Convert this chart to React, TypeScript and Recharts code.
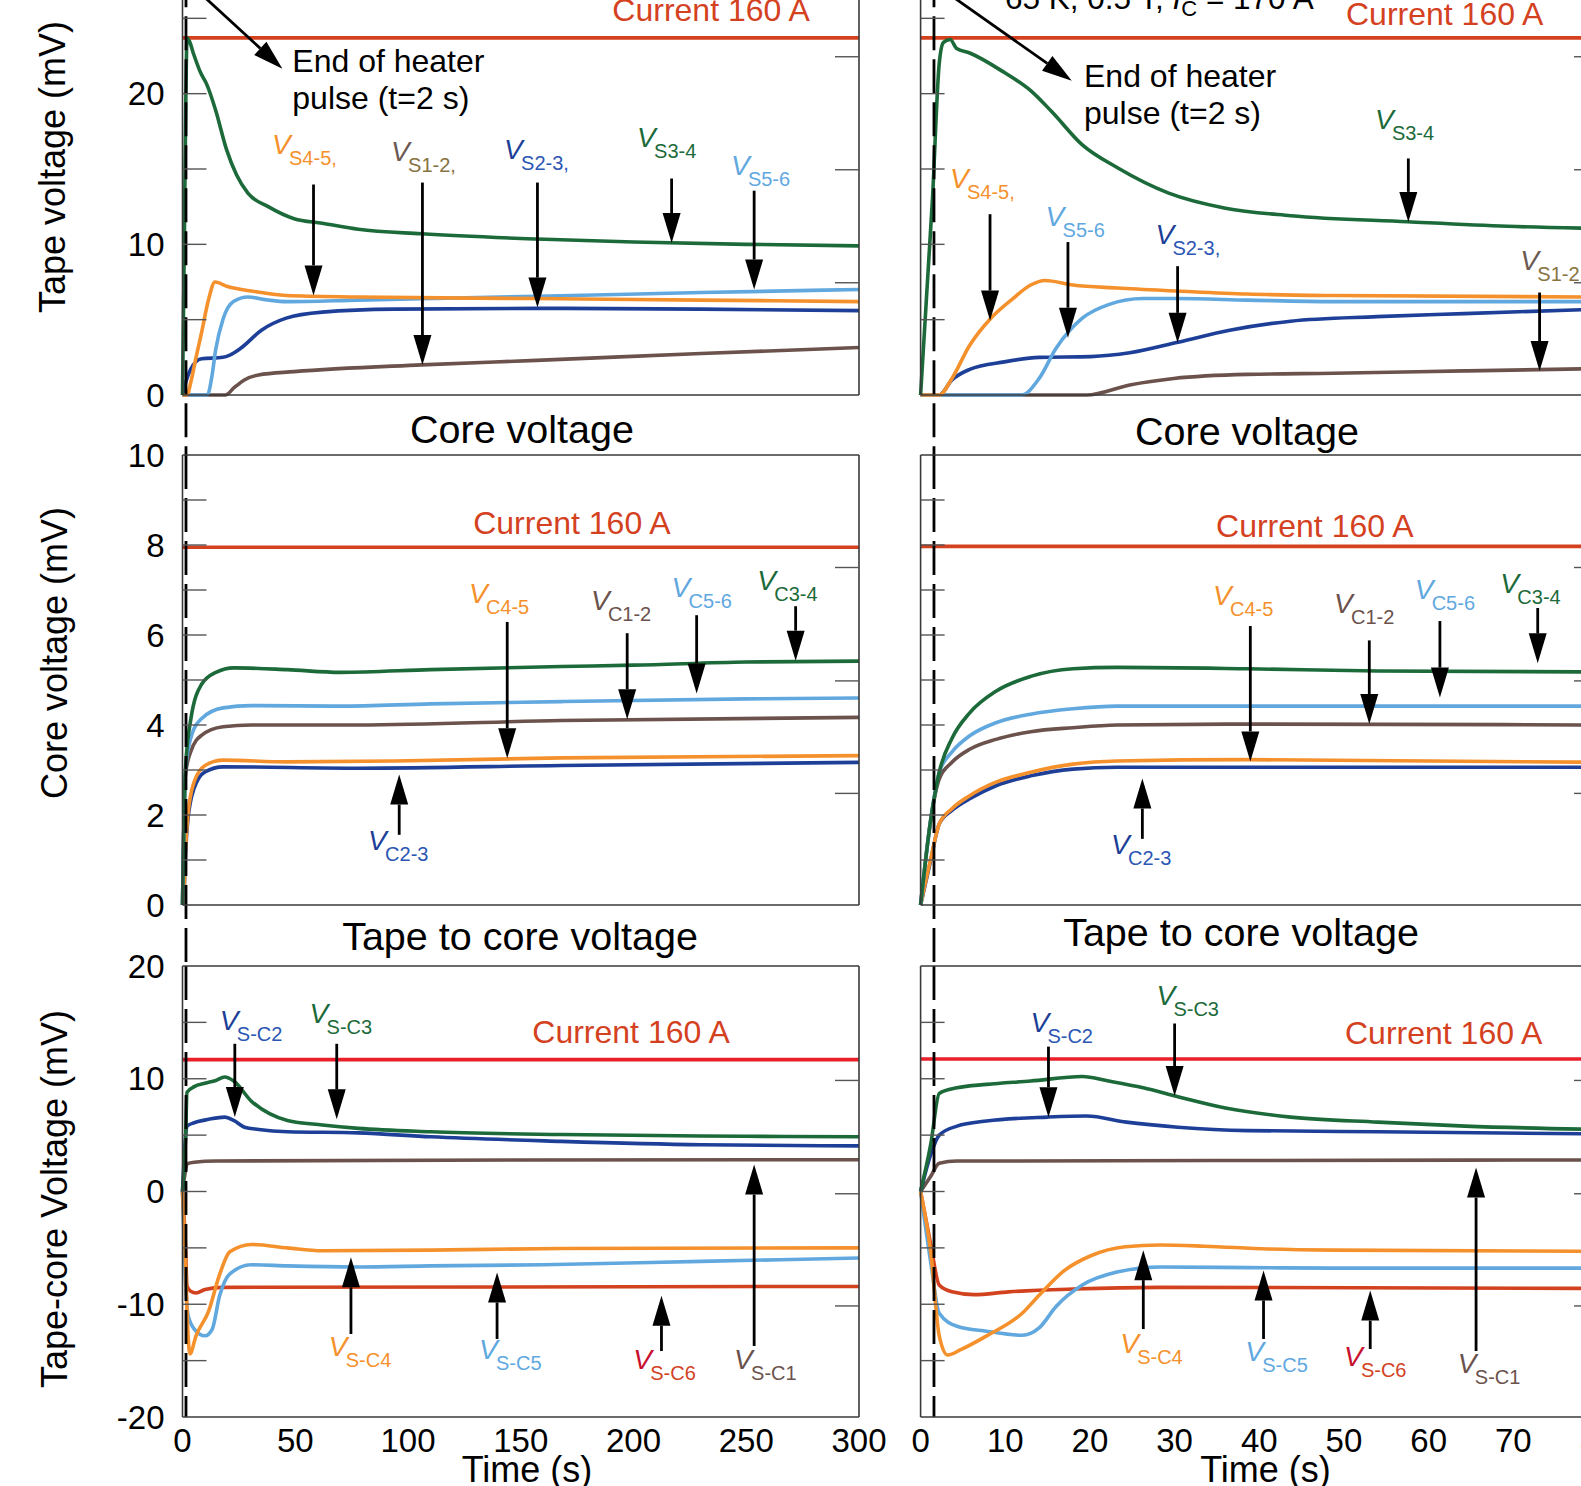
import { LineChart, Line, XAxis, YAxis, ReferenceLine, ReferenceDot } from "recharts";

type Pt = [number, number];
type Arr = [number, number, number, number]; // tail t, tail v, tip t, tip v
type Tag = { t: number; v: number; sub: string; c: string; sc?: string };
type Note = { t: number; v: number; text: string[]; c: string; anchor: "start" | "middle" };

const GREEN = "#1c6a3a";
const ORANGE = "#f5912c";
const LBLUE = "#61a8df";
const DBLUE = "#1d3f98";
const BROWN = "#6b524c";
const CUR = "#d4411f";
const CUR_B = "#ea1f29";
const RED6 = "#d2421f";
const FRAME = "#3a3a3a";
const TICK = "#555";

// ---- tape voltage, 0-300 s
const TL_S34: Pt[] = [[0, 0], [0.8, 10], [1.5, 20], [2, 23.7], [3, 23.5], [5, 22.6], [8, 21.4], [10.8, 20.6], [14.7, 18.9], [19.5, 16.3], [24, 14.6], [29, 13.4], [38, 12.5], [49.5, 11.7], [62, 11.4], [78, 11.0], [106, 10.7], [157, 10.35], [200, 10.15], [250, 10.0], [300, 9.9]];
const TL_S45: Pt[] = [[0, 0], [2, 0], [3.6, 0.8], [6, 2.5], [8.4, 4.1], [11.5, 6.3], [14.4, 7.5], [20, 7.2], [30.5, 6.9], [46, 6.6], [78, 6.5], [157, 6.4], [230, 6.3], [300, 6.2]];
const TL_S56: Pt[] = [[0, 0], [11, 0], [13, 1.2], [14.7, 3.0], [17.9, 5.0], [22.6, 6.2], [29, 6.5], [38, 6.3], [46, 6.2], [78, 6.3], [157, 6.55], [230, 6.8], [300, 7.0]];
const TL_S23: Pt[] = [[0, 0], [1, 0.6], [3.6, 1.7], [8.4, 2.4], [17.9, 2.5], [21, 2.65], [25.8, 3.1], [35, 4.3], [46, 5.1], [62, 5.5], [94, 5.7], [157, 5.75], [230, 5.7], [300, 5.6]];
const TL_S12: Pt[] = [[0, 0], [19, 0], [23, 0.5], [27.4, 1.0], [33.7, 1.33], [49.5, 1.55], [106, 2.0], [157, 2.3], [230, 2.75], [300, 3.15]];
const TL_CUR: Pt[] = [[0, 23.7], [300, 23.7]];

// ---- tape voltage, 0-80 s
const TR_S34: Pt[] = [[0, 0], [1.4, 13], [2.2, 22], [2.7, 23.4], [3.5, 23.6], [4.25, 23.0], [5.8, 22.7], [9.9, 21.4], [13, 20.2], [15.5, 18.8], [19.1, 16.6], [23.2, 15.1], [29.3, 13.4], [36, 12.4], [43.7, 11.9], [57.5, 11.5], [69.3, 11.2], [80, 11.05]];
const TR_S45: Pt[] = [[0, 0], [2.2, 0], [3.7, 1.1], [5.8, 3.3], [8.3, 5.1], [10.9, 6.4], [13, 7.3], [14.7, 7.6], [18, 7.3], [23.2, 7.1], [30.4, 6.9], [38.6, 6.7], [48.8, 6.6], [80, 6.5]];
const TR_S56: Pt[] = [[0, 0], [11.9, 0], [14, 1.1], [16, 3.1], [19.1, 5.1], [22.2, 6.0], [26.3, 6.4], [30.4, 6.4], [38.6, 6.3], [48.8, 6.2], [80, 6.2]];
const TR_S23: Pt[] = [[0, 0], [2.2, 0], [3.7, 1.0], [5.8, 1.7], [9.9, 2.2], [14, 2.5], [20.1, 2.55], [24.7, 2.8], [30.4, 3.5], [36.5, 4.3], [43.7, 4.9], [53.9, 5.2], [64.2, 5.4], [80, 5.7]];
const TR_S12: Pt[] = [[0, 0], [19.6, 0], [24.7, 0.67], [29.9, 1.1], [38.6, 1.37], [48.8, 1.44], [64.2, 1.6], [80, 1.75]];
const TR_CUR: Pt[] = [[0, 23.7], [80, 23.7]];

// ---- core voltage, 0-300 s
const ML_C34: Pt[] = [[0, 0], [0.5, 1.5], [1.3, 3.0], [3.6, 4.1], [8.4, 4.9], [14.8, 5.17], [22.7, 5.27], [46.5, 5.23], [70, 5.17], [110, 5.23], [168, 5.3], [200, 5.33], [250, 5.4], [300, 5.42]];
const ML_C56: Pt[] = [[0, 0], [0.5, 1.5], [1.3, 2.96], [3.6, 3.7], [8.4, 4.14], [18, 4.38], [30.6, 4.43], [70, 4.42], [110, 4.47], [168, 4.52], [250, 4.58], [300, 4.6]];
const ML_C12: Pt[] = [[0, 0], [0.5, 1.5], [1.3, 2.9], [3.6, 3.4], [8.4, 3.77], [18, 3.96], [30.6, 4.0], [78, 4.0], [168, 4.1], [300, 4.17]];
const ML_C45: Pt[] = [[0, 0], [0.5, 0.1], [1.3, 1.2], [2.4, 2.0], [5.2, 2.74], [10, 3.1], [18, 3.22], [46.5, 3.18], [94, 3.2], [168, 3.27], [300, 3.32]];
const ML_C23: Pt[] = [[0, 0], [0.5, 0.1], [1.3, 1.1], [2.4, 1.9], [5.2, 2.6], [10, 2.96], [18, 3.07], [78, 3.04], [168, 3.1], [300, 3.17]];
const ML_CUR: Pt[] = [[0, 7.95], [300, 7.95]];

// ---- core voltage, 0-80 s
const MR_C34: Pt[] = [[0, 0], [1.2, 1.9], [2.2, 2.95], [3.7, 3.7], [5.8, 4.27], [8.9, 4.75], [13, 5.08], [18, 5.25], [23.2, 5.28], [38.6, 5.25], [54, 5.2], [80, 5.18]];
const MR_C56: Pt[] = [[0, 0], [1.2, 1.9], [2.2, 2.95], [3.7, 3.4], [5.8, 3.76], [8.9, 4.05], [13, 4.24], [18, 4.36], [23.2, 4.42], [38.6, 4.42], [80, 4.42]];
const MR_C12: Pt[] = [[0, 0], [1.2, 1.9], [2.2, 2.8], [3.7, 3.17], [5.8, 3.46], [8.9, 3.68], [13, 3.85], [18, 3.94], [23.2, 4.0], [38.6, 4.02], [80, 4.0]];
const MR_C45: Pt[] = [[0, 0], [1.2, 1.03], [2.2, 1.8], [3.7, 2.14], [5.8, 2.43], [8.9, 2.73], [13, 2.95], [18, 3.13], [23.2, 3.2], [38.6, 3.23], [80, 3.17]];
const MR_C23: Pt[] = [[0, 0], [1.2, 1.0], [2.2, 1.8], [3.7, 2.1], [5.8, 2.36], [8.9, 2.65], [13, 2.87], [18, 3.02], [23.2, 3.06], [38.6, 3.06], [80, 3.06]];
const MR_CUR: Pt[] = [[0, 7.97], [80, 7.97]];

// ---- tape to core voltage, 0-300 s
const BL_C3: Pt[] = [[0, 0], [1.3, 4.4], [2, 8.8], [5.2, 9.3], [10, 9.6], [14.8, 9.85], [18.7, 10.15], [22.7, 9.8], [30.6, 8.0], [38.6, 6.9], [46.5, 6.3], [62, 5.9], [78, 5.6], [110, 5.3], [168, 5.05], [250, 4.9], [300, 4.85]];
const BL_C2: Pt[] = [[0, 0], [1.3, 4.7], [2, 5.8], [5.2, 6.1], [11.6, 6.4], [18.7, 6.6], [22.7, 6.3], [27.5, 5.7], [33.8, 5.5], [46.5, 5.3], [78, 5.2], [110, 4.85], [168, 4.45], [230, 4.15], [300, 4.05]];
const BL_C1: Pt[] = [[0, 0], [1.3, 1.8], [2, 2.45], [5.2, 2.6], [14.8, 2.7], [150, 2.8], [300, 2.82]];
const BL_C4: Pt[] = [[0, 0], [1.3, -6.1], [2.4, -12.5], [3.3, -14.4], [6, -12.8], [11.6, -10.6], [16.4, -7.4], [21, -5.35], [30.6, -4.7], [46.5, -5.0], [62, -5.25], [110, -5.2], [168, -5.05], [300, -5.0]];
const BL_C5: Pt[] = [[0, 0], [1.3, -7.7], [2.4, -10.9], [5.2, -12.2], [10, -12.8], [13.2, -12.2], [16.4, -9.3], [21, -7.3], [30.6, -6.5], [46.5, -6.6], [78, -6.7], [110, -6.6], [160, -6.5], [230, -6.2], [300, -5.9]];
const BL_C6: Pt[] = [[0, 0], [1.3, -4.6], [2, -8.4], [3.6, -8.85], [6, -9.0], [10, -8.7], [18, -8.5], [300, -8.42]];
const BL_CUR: Pt[] = [[0, 11.7], [300, 11.7]];

// ---- tape to core voltage, 0-80 s
const BR_C3: Pt[] = [[0, 0], [1.2, 4.2], [2.2, 8.7], [4.3, 9.2], [7.8, 9.5], [13, 9.8], [19.1, 10.2], [22.2, 9.8], [26.3, 9.2], [30.4, 8.4], [36, 7.4], [43.7, 6.6], [54, 6.15], [64.3, 5.8], [80, 5.5]];
const BR_C2: Pt[] = [[0, 0], [1.2, 3.3], [2.2, 5.0], [4.3, 5.8], [7.8, 6.25], [15, 6.6], [19.6, 6.7], [24.3, 6.15], [30.4, 5.7], [38.6, 5.4], [54, 5.3], [80, 5.1]];
const BR_C1: Pt[] = [[0, 0], [1.2, 1.35], [2.2, 2.5], [4.3, 2.7], [40, 2.75], [80, 2.8]];
const BR_C4: Pt[] = [[0, 0], [1.2, -5.4], [2.2, -12.8], [3.2, -14.5], [4.8, -14.0], [7.8, -12.8], [12, -10.8], [14, -9.2], [17, -7.0], [20.1, -5.7], [24.2, -4.9], [28.3, -4.75], [33.5, -4.85], [41, -5.1], [48.8, -5.2], [80, -5.3]];
const BR_C5: Pt[] = [[0, 0], [1.2, -6.3], [2.2, -10.8], [4.3, -11.95], [7.8, -12.4], [12, -12.75], [14, -12.1], [16, -10.2], [19.1, -8.3], [23.2, -7.15], [28.3, -6.7], [38.6, -6.75], [48.8, -6.8], [80, -6.8]];
const BR_C6: Pt[] = [[0, 0], [1.2, -4.7], [2.2, -8.3], [3.7, -8.9], [6.3, -9.15], [10.4, -8.9], [18, -8.65], [28.3, -8.5], [80, -8.6]];
const BR_CUR: Pt[] = [[0, 11.75], [80, 11.75]];

// ---- ticks
const X_LONG_LABELS = [0, 50, 100, 150, 200, 250, 300];
const X_LONG_MINOR = [50, 100, 150, 200, 250];
const X_SHORT_LABELS = [0, 10, 20, 30, 40, 50, 60, 70, 80];
const X_SHORT_MINOR = [10, 20, 30, 40, 50, 60, 70];
const TAPE_LABELS = [0, 10, 20];
const TAPE_MINOR = [5, 10, 15, 20, 25];
const TAPE_RIGHT = [7.45, 14.95, 22.45];
const CORE_LABELS = [0, 2, 4, 6, 8, 10];
const CORE_MINOR = [1, 2, 3, 4, 5, 6, 7, 8, 9];
const CORE_RIGHT = [2.48, 4.98, 7.5];
const TC_LABELS = [-20, -10, 0, 10, 20];
const TC_MINOR = [-15, -10, -5, 0, 5, 10, 15];
const TC_RIGHT = [-10.15, -0.2, 9.85];

// ---- annotations (data units)
const TL_ARROWS: Arr[] = [[4.0, 27.2, 44.3, 21.66], [58.1, 13.97, 58.1, 6.61], [106.4, 14.1, 106.4, 1.99], [157.4, 14.1, 157.4, 5.8], [216.9, 14.37, 216.9, 10.09], [253.5, 13.56, 253.5, 7.0]];
const TR_ARROWS: Arr[] = [[2.62, 26.9, 17.85, 20.86], [57.6, 15.7, 57.6, 11.49], [8.2, 12.0, 8.2, 4.94], [17.4, 10.15, 17.4, 3.8], [30.35, 8.55, 30.35, 3.46], [73.1, 6.8, 73.1, 1.59]];
const ML_ARROWS: Arr[] = [[144, 6.29, 144, 3.26], [197.2, 6.04, 197.2, 4.13], [228, 6.44, 228, 4.7], [271.9, 6.64, 271.9, 5.43], [96.1, 1.56, 96.1, 2.9]];
const MR_ARROWS: Arr[] = [[38.94, 6.2, 38.94, 3.19], [52.99, 5.88, 52.99, 4.02], [61.33, 6.31, 61.33, 4.61], [72.88, 6.6, 72.88, 5.37], [26.19, 1.47, 26.19, 2.81]];
const BL_ARROWS: Arr[] = [[23.2, 13.1, 23.2, 6.6], [68.4, 13.1, 68.4, 6.4], [74.7, -12.64, 74.7, -5.84], [139.5, -13.08, 139.5, -7.18], [212.4, -14.15, 212.4, -9.24], [253.5, -13.7, 253.5, 2.39]];
const BR_ARROWS: Arr[] = [[15.1, 12.85, 15.1, 6.59], [30.0, 14.9, 30.0, 8.47], [26.3, -12.2, 26.3, -5.2], [40.5, -13.08, 40.5, -7.0], [53.1, -13.97, 53.1, -8.79], [65.6, -14.15, 65.6, 2.12]];

const TL_TAGS: Tag[] = [
  { t: 39.7, v: 15.99, sub: "S4-5,", c: ORANGE },
  { t: 92.5, v: 15.53, sub: "S1-2,", c: "#6b5a52", sc: "#867341" },
  { t: 142.6, v: 15.66, sub: "S2-3,", c: DBLUE, sc: "#2b56b3" },
  { t: 201.6, v: 16.46, sub: "S3-4", c: GREEN },
  { t: 243.2, v: 14.57, sub: "S5-6", c: LBLUE },
];
const TR_TAGS: Tag[] = [
  { t: 53.65, v: 17.65, sub: "S3-4", c: GREEN },
  { t: 3.47, v: 13.77, sub: "S4-5,", c: ORANGE },
  { t: 14.76, v: 11.21, sub: "S5-6", c: LBLUE },
  { t: 27.73, v: 10.02, sub: "S2-3,", c: DBLUE, sc: "#2b56b3" },
  { t: 70.83, v: 8.29, sub: "S1-2,", c: "#6b5a52", sc: "#867341" },
];
const ML_TAGS: Tag[] = [
  { t: 127, v: 6.71, sub: "C4-5", c: ORANGE },
  { t: 181.1, v: 6.56, sub: "C1-2", c: BROWN },
  { t: 216.9, v: 6.84, sub: "C5-6", c: LBLUE },
  { t: 254.9, v: 7.0, sub: "C3-4", c: GREEN },
  { t: 82.3, v: 1.22, sub: "C2-3", c: DBLUE, sc: "#2b56b3" },
];
const MR_TAGS: Tag[] = [
  { t: 34.53, v: 6.67, sub: "C4-5", c: ORANGE },
  { t: 48.82, v: 6.49, sub: "C1-2", c: BROWN },
  { t: 58.35, v: 6.8, sub: "C5-6", c: LBLUE },
  { t: 68.47, v: 6.93, sub: "C3-4", c: GREEN },
  { t: 22.49, v: 1.13, sub: "C2-3", c: DBLUE, sc: "#2b56b3" },
];
const BL_TAGS: Tag[] = [
  { t: 16.54, v: 14.28, sub: "S-C2", c: DBLUE, sc: "#2b56b3" },
  { t: 56.36, v: 14.91, sub: "S-C3", c: GREEN },
  { t: 64.83, v: -14.59, sub: "S-C4", c: ORANGE },
  { t: 131.5, v: -14.86, sub: "S-C5", c: LBLUE },
  { t: 199.9, v: -15.74, sub: "S-C6", c: "#c8102e", sc: RED6 },
  { t: 244.6, v: -15.74, sub: "S-C1", c: BROWN },
];
const BR_TAGS: Tag[] = [
  { t: 12.97, v: 14.19, sub: "S-C2", c: DBLUE, sc: "#2b56b3" },
  { t: 27.85, v: 16.51, sub: "S-C3", c: GREEN },
  { t: 23.57, v: -14.32, sub: "S-C4", c: ORANGE },
  { t: 38.34, v: -15.03, sub: "S-C5", c: LBLUE },
  { t: 49.99, v: -15.48, sub: "S-C6", c: "#c8102e", sc: RED6 },
  { t: 63.45, v: -16.1, sub: "S-C1", c: BROWN },
];

const HEATER = ["End of heater", "pulse (t=2 s)"];
const CUR_TEXT = ["Current 160 A"];
const TL_NOTES: Note[] = [
  { t: 234.4, v: 24.81, text: CUR_TEXT, c: CUR, anchor: "middle" },
  { t: 48.7, v: 21.44, text: HEATER, c: "#000", anchor: "start" },
];
const TR_NOTES: Note[] = [
  { t: 61.9, v: 24.54, text: CUR_TEXT, c: CUR, anchor: "middle" },
  { t: 19.3, v: 20.46, text: HEATER, c: "#000", anchor: "start" },
];
const ML_NOTES: Note[] = [{ t: 172.7, v: 8.24, text: CUR_TEXT, c: CUR, anchor: "middle" }];
const MR_NOTES: Note[] = [{ t: 46.55, v: 8.17, text: CUR_TEXT, c: CUR, anchor: "middle" }];
const BL_NOTES: Note[] = [{ t: 198.9, v: 13.2, text: CUR_TEXT, c: CUR, anchor: "middle" }];
const BR_NOTES: Note[] = [{ t: 61.78, v: 13.12, text: CUR_TEXT, c: CUR, anchor: "middle" }];

const rows = (p: Pt[]) => p.map(([t, v]) => ({ t, v }));
const NoTick = () => <g />;

function ArrowShape(p: any) {
  const { x1, y1, x2, y2 } = p;
  const dx = x2 - x1;
  const dy = y2 - y1;
  const len = Math.hypot(dx, dy) || 1;
  const ux = dx / len;
  const uy = dy / len;
  const hl = 30;
  const hw = 9;
  const bx = x2 - ux * hl;
  const by = y2 - uy * hl;
  return (
    <g>
      <line x1={x1} y1={y1} x2={bx} y2={by} stroke="#000" strokeWidth={2.8} />
      <polygon
        points={`${x2},${y2} ${bx - uy * hw},${by + ux * hw} ${bx + uy * hw},${by - ux * hw}`}
        fill="#000"
      />
    </g>
  );
}

const tagShape = (g: Tag) => (p: any) => (
  <g>
    <text x={p.cx} y={p.cy} fontSize={28} fontStyle="italic" fill={g.c}>V</text>
    <text x={p.cx + 17} y={p.cy + 11} fontSize={20} fill={g.sc ?? g.c}>{g.sub}</text>
  </g>
);

const noteShape = (n: Note) => (p: any) => (
  <text x={p.cx} y={p.cy} fontSize={32} fill={n.c} textAnchor={n.anchor}>
    {n.text.map((line, i) => (
      <tspan key={i} x={p.cx} dy={i === 0 ? 0 : 37}>{line}</tspan>
    ))}
  </text>
);

type PanelProps = {
  left: number;
  top: number;
  width: number;
  height: number;
  margin: { top: number; right: number; bottom: number; left: number };
  xDomain: [number, number];
  yDomain: [number, number];
  xLabels?: number[];
  xMinor: number[];
  yLabels?: number[];
  yMinor: number[];
  yRight: number[];
  series: { pts: Pt[]; color: string }[];
  arrows: Arr[];
  tags: Tag[];
  notes: Note[];
  dash: Arr;
};

function Panel(p: PanelProps) {
  const frame = { stroke: FRAME, strokeWidth: 1.6 };
  const tickLine = { stroke: TICK, strokeWidth: 1.4 };
  const label = { fill: "#000", fontSize: 33 };
  return (
    <div style={{ position: "absolute", left: p.left, top: p.top }}>
      <LineChart width={p.width} height={p.height} margin={p.margin}>
        <XAxis xAxisId="t" dataKey="t" type="number" domain={p.xDomain} ticks={p.xLabels ?? []} hide={!p.xLabels}
          interval={0} height={40} tickSize={0} tickMargin={12} tickLine={false} axisLine={false} tick={label} />
        <XAxis xAxisId="xb" type="number" domain={p.xDomain} allowDataOverflow ticks={p.xMinor} interval={0}
          mirror tickSize={24} tick={NoTick} axisLine={frame} tickLine={tickLine} />
        <XAxis xAxisId="xt" orientation="top" type="number" domain={p.xDomain} allowDataOverflow ticks={p.xMinor}
          interval={0} mirror tickSize={24} tick={NoTick} axisLine={frame} tickLine={tickLine} />
        <YAxis yAxisId="v" type="number" domain={p.yDomain} ticks={p.yLabels ?? []} hide={!p.yLabels} width={100}
          interval={0} tickSize={0} tickMargin={18} tickLine={false} axisLine={false} tick={label} />
        <YAxis yAxisId="yl" type="number" domain={p.yDomain} allowDataOverflow ticks={p.yMinor} interval={0}
          mirror tickSize={24} tick={NoTick} axisLine={frame} tickLine={tickLine} />
        <YAxis yAxisId="yr" orientation="right" type="number" domain={p.yDomain} allowDataOverflow ticks={p.yRight}
          interval={0} mirror tickSize={24} tick={NoTick} axisLine={frame} tickLine={tickLine} />
        {p.series.map((s, i) => (
          <Line key={i} xAxisId="t" yAxisId="v" data={rows(s.pts)} dataKey="v" type="monotone" stroke={s.color}
            strokeWidth={3.6} dot={false} activeDot={false} isAnimationActive={false} />
        ))}
        <ReferenceLine xAxisId="t" yAxisId="v" ifOverflow="visible"
          segment={[{ x: p.dash[0], y: p.dash[1] }, { x: p.dash[2], y: p.dash[3] }]}
          stroke="#000" strokeWidth={2.8} strokeDasharray="34 9" />
        {p.arrows.map((a, i) => (
          <ReferenceLine key={`a${i}`} xAxisId="t" yAxisId="v" ifOverflow="visible"
            segment={[{ x: a[0], y: a[1] }, { x: a[2], y: a[3] }]} shape={ArrowShape} />
        ))}
        {p.tags.map((g, i) => (
          <ReferenceDot key={`g${i}`} xAxisId="t" yAxisId="v" x={g.t} y={g.v} r={0} ifOverflow="visible" shape={tagShape(g)} />
        ))}
        {p.notes.map((n, i) => (
          <ReferenceDot key={`n${i}`} xAxisId="t" yAxisId="v" x={n.t} y={n.v} r={0} ifOverflow="visible" shape={noteShape(n)} />
        ))}
      </LineChart>
    </div>
  );
}

const LEFT_COL = { left: 0, width: 880, ml: 82.5, mr: 21 };
const RIGHT_COL = { left: 900, width: 720, ml: 20.6, mr: 22 };

export default function App() {
  return (
    <div
      style={{
        position: "relative",
        width: 1581,
        height: 1486,
        overflow: "hidden",
        background: "#fff",
        fontFamily: '"Liberation Sans", Arial, sans-serif',
      }}
    >
      <style>{"body{margin:0} .recharts-surface{overflow:visible}"}</style>

      {/* top row: tape voltage */}
      <Panel left={LEFT_COL.left} top={-80} width={LEFT_COL.width} height={495}
        margin={{ top: 23, right: LEFT_COL.mr, bottom: 20, left: LEFT_COL.ml }}
        xDomain={[0, 300]} yDomain={[0, 30]} xMinor={X_LONG_MINOR} yLabels={TAPE_LABELS} yMinor={TAPE_MINOR} yRight={TAPE_RIGHT}
        series={[{ pts: TL_CUR, color: CUR }, { pts: TL_S12, color: BROWN }, { pts: TL_S23, color: DBLUE }, { pts: TL_S56, color: LBLUE }, { pts: TL_S45, color: ORANGE }, { pts: TL_S34, color: GREEN }]}
        arrows={TL_ARROWS} tags={TL_TAGS} notes={TL_NOTES} dash={[1.55, 28, 1.55, -4.05]} />
      <Panel left={RIGHT_COL.left} top={-80} width={RIGHT_COL.width} height={495}
        margin={{ top: 23, right: RIGHT_COL.mr, bottom: 20, left: RIGHT_COL.ml }}
        xDomain={[0, 80]} yDomain={[0, 30]} xMinor={X_SHORT_MINOR} yMinor={TAPE_MINOR} yRight={TAPE_RIGHT}
        series={[{ pts: TR_CUR, color: CUR }, { pts: TR_S12, color: BROWN }, { pts: TR_S23, color: DBLUE }, { pts: TR_S56, color: LBLUE }, { pts: TR_S45, color: ORANGE }, { pts: TR_S34, color: GREEN }]}
        arrows={TR_ARROWS} tags={TR_TAGS} notes={TR_NOTES} dash={[1.58, 28, 1.58, -4.05]} />

      {/* middle row: core voltage */}
      <Panel left={LEFT_COL.left} top={435} width={LEFT_COL.width} height={490}
        margin={{ top: 20, right: LEFT_COL.mr, bottom: 20, left: LEFT_COL.ml }}
        xDomain={[0, 300]} yDomain={[0, 10]} xMinor={X_LONG_MINOR} yLabels={CORE_LABELS} yMinor={CORE_MINOR} yRight={CORE_RIGHT}
        series={[{ pts: ML_CUR, color: CUR }, { pts: ML_C23, color: DBLUE }, { pts: ML_C45, color: ORANGE }, { pts: ML_C12, color: BROWN }, { pts: ML_C56, color: LBLUE }, { pts: ML_C34, color: GREEN }]}
        arrows={ML_ARROWS} tags={ML_TAGS} notes={ML_NOTES} dash={[1.55, 10, 1.55, -1.36]} />
      <Panel left={RIGHT_COL.left} top={435} width={RIGHT_COL.width} height={490}
        margin={{ top: 20, right: RIGHT_COL.mr, bottom: 20, left: RIGHT_COL.ml }}
        xDomain={[0, 80]} yDomain={[0, 10]} xMinor={X_SHORT_MINOR} yMinor={CORE_MINOR} yRight={CORE_RIGHT}
        series={[{ pts: MR_CUR, color: CUR }, { pts: MR_C23, color: DBLUE }, { pts: MR_C45, color: ORANGE }, { pts: MR_C12, color: BROWN }, { pts: MR_C56, color: LBLUE }, { pts: MR_C34, color: GREEN }]}
        arrows={MR_ARROWS} tags={MR_TAGS} notes={MR_NOTES} dash={[1.58, 10, 1.58, -1.36]} />

      {/* bottom row: tape to core voltage */}
      <Panel left={LEFT_COL.left} top={946} width={LEFT_COL.width} height={511}
        margin={{ top: 20, right: LEFT_COL.mr, bottom: 0, left: LEFT_COL.ml }}
        xDomain={[0, 300]} yDomain={[-20, 20]} xLabels={X_LONG_LABELS} xMinor={X_LONG_MINOR} yLabels={TC_LABELS} yMinor={TC_MINOR} yRight={TC_RIGHT}
        series={[{ pts: BL_CUR, color: CUR_B }, { pts: BL_C1, color: BROWN }, { pts: BL_C6, color: RED6 }, { pts: BL_C5, color: LBLUE }, { pts: BL_C4, color: ORANGE }, { pts: BL_C2, color: DBLUE }, { pts: BL_C3, color: GREEN }]}
        arrows={BL_ARROWS} tags={BL_TAGS} notes={BL_NOTES} dash={[1.55, 20, 1.55, -20]} />
      <Panel left={RIGHT_COL.left} top={946} width={RIGHT_COL.width} height={511}
        margin={{ top: 20, right: RIGHT_COL.mr, bottom: 0, left: RIGHT_COL.ml }}
        xDomain={[0, 80]} yDomain={[-20, 20]} xLabels={X_SHORT_LABELS} xMinor={X_SHORT_MINOR} yMinor={TC_MINOR} yRight={TC_RIGHT}
        series={[{ pts: BR_CUR, color: CUR_B }, { pts: BR_C1, color: BROWN }, { pts: BR_C6, color: RED6 }, { pts: BR_C5, color: LBLUE }, { pts: BR_C4, color: ORANGE }, { pts: BR_C2, color: DBLUE }, { pts: BR_C3, color: GREEN }]}
        arrows={BR_ARROWS} tags={BR_TAGS} notes={BR_NOTES} dash={[1.58, 20, 1.58, -20]} />

      <svg width={1581} height={1486} style={{ position: "absolute", left: 0, top: 0, pointerEvents: "none" }}>
        <g fill="#000" fontSize={36} textAnchor="middle">
          <text transform="translate(65,167) rotate(-90)">Tape voltage (mV)</text>
          <text transform="translate(66.5,653) rotate(-90)">Core voltage (mV)</text>
          <text transform="translate(66.5,1199) rotate(-90)">Tape-core Voltage (mV)</text>
          <text x={527} y={1482}>Time (s)</text>
          <text x={1265.5} y={1482}>Time (s)</text>
        </g>
        <g fill="#000" fontSize={39.5} textAnchor="middle">
          <text x={522} y={443}>Core voltage</text>
          <text x={1247} y={445}>Core voltage</text>
          <text x={520} y={950}>Tape to core voltage</text>
          <text x={1241} y={946}>Tape to core voltage</text>
        </g>
        <text x={1005} y={9} fontSize={31.5} fill="#000">
          65 K, 0.5 T, <tspan fontStyle="italic">I</tspan>
          <tspan fontSize={22} dy={7}>C</tspan>
          <tspan dy={-7}> = 170 A</tspan>
        </text>
      </svg>
    </div>
  );
}
